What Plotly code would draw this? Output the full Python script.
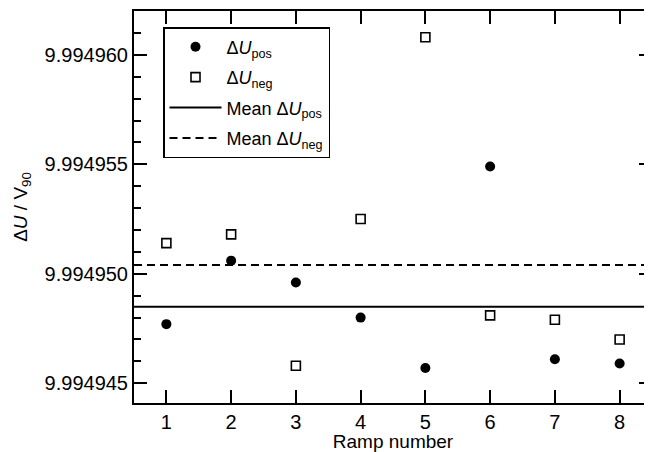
import plotly.graph_objects as go

# ---- data ----
ramps = [1, 2, 3, 4, 5, 6, 7, 8]
du_pos = [9.9949477, 9.9949506, 9.9949496, 9.9949480, 9.9949457, 9.9949549, 9.9949461, 9.9949459]
du_neg = [9.9949514, 9.9949518, 9.9949458, 9.9949525, 9.9949608, 9.9949481, 9.9949479, 9.9949470]
mean_pos = 9.9949485
mean_neg = 9.9949504
x_range = [0.5, 8.5]
y_range = [9.9949441, 9.9949620]
y_ticks = [9.994945, 9.994950, 9.994955, 9.994960]
y_ticklabels = ["9.994945", "9.994950", "9.994955", "9.994960"]

FONT = "Liberation Sans, Arial, Helvetica, sans-serif"

fig = go.Figure()
fig.add_trace(go.Scatter(
    x=ramps, y=du_pos, mode="markers", name="Δ<i>U</i><sub>pos</sub>", legendgroup="a",
    marker=dict(symbol="circle", size=10, color="black", line=dict(width=0)),
))
fig.add_trace(go.Scatter(
    x=ramps, y=du_neg, mode="markers", name="Δ<i>U</i><sub>neg</sub>", legendgroup="b",
    marker=dict(symbol="square-open", size=9, color="black", line=dict(width=1.6)),
))
fig.add_trace(go.Scatter(
    x=x_range, y=[mean_pos, mean_pos], mode="lines", name="Mean Δ<i>U</i><sub>pos</sub>",
    legendgroup="c", line=dict(color="black", width=2),
))
fig.add_trace(go.Scatter(
    x=x_range, y=[mean_neg, mean_neg], mode="lines", name="Mean Δ<i>U</i><sub>neg</sub>",
    legendgroup="d", line=dict(color="black", width=2, dash="8px,5px"),
))

axis_common = dict(
    showgrid=False, zeroline=False, showline=True, linecolor="black", linewidth=2,
    mirror="ticks", ticks="inside", tickcolor="black", tickwidth=1.6, ticklen=13,
    tickfont=dict(family=FONT, size=20, color="black"), automargin=False,
)

fig.update_xaxes(
    **axis_common, range=x_range, tickmode="array", tickvals=ramps,
    ticktext=[str(r) for r in ramps],
    title=dict(text="Ramp number", font=dict(family=FONT, size=19, color="black"), standoff=0),
)
fig.update_yaxes(
    **axis_common, range=y_range, tickmode="array", tickvals=y_ticks, ticktext=y_ticklabels,
    minor=dict(dtick=1e-6, tick0=9.994945, ticks="inside", ticklen=7, tickwidth=1.6, tickcolor="black"),
    title=dict(text="Δ<i>U</i> / V<sub>90</sub>", font=dict(family=FONT, size=19, color="black"), standoff=12),
)

# page body has an 8px default margin, so the figure is sized/offset to compensate
fig.update_layout(
    width=644, height=444,
    margin=dict(l=126, r=0, t=3, b=49),
    paper_bgcolor="white", plot_bgcolor="white",
    font=dict(family=FONT, size=19, color="black"),
    showlegend=True,
    legend=dict(
        x=0.056, y=0.959, xanchor="left", yanchor="top",
        bordercolor="black", borderwidth=1.5, bgcolor="white",
        font=dict(family=FONT, size=18, color="black"),
        itemwidth=52, tracegroupgap=4, traceorder="grouped",
    ),
)

fig.write_html("out.html")
